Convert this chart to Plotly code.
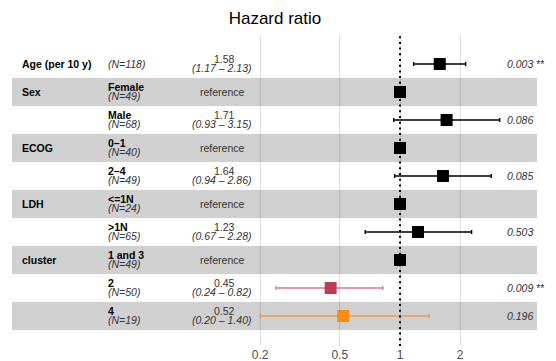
import math
import plotly.graph_objects as go

# ---------------- data ----------------
variables = ["Age (per 10 y)", "Sex", "", "ECOG", "", "LDH", "", "cluster", "", ""]
levels = ["", "Female", "Male", "0\u20131", "2\u20134", "<=1N", ">1N", "1 and 3", "2", "4"]
n_obs = [118, 49, 68, 40, 49, 24, 65, 49, 50, 19]
hazard_ratio = [1.58, 1.0, 1.71, 1.0, 1.64, 1.0, 1.23, 1.0, 0.45, 0.52]
ci_low = [1.17, None, 0.93, None, 0.94, None, 0.67, None, 0.24, 0.20]
ci_high = [2.13, None, 3.15, None, 2.86, None, 2.28, None, 0.82, 1.40]
p_values = ["0.003", None, "0.086", None, "0.085", None, "0.503", None, "0.009", "0.196"]
p_stars = ["**", "", "", "", "", "", "", "", "**", ""]
tick_values = [0.2, 0.5, 1, 2]
tick_labels = ["0.2", "0.5", "1", "2"]

# ---------------- styles ----------------
W, H = 556, 361
FONT = "Liberation Sans, Arial, Helvetica, sans-serif"
marker_colors = ["#000000"] * 8 + ["#C1395B", "#F78C12"]
bar_colors = ["#000000"] * 8 + ["rgba(193,57,91,0.65)", "rgba(247,140,18,0.75)"]
band_color = "#D0D0D0"
TS = 10.5
UP, DOWN = 5, -4

n_rows = len(variables)
rows = list(range(n_rows))

fig = go.Figure()

shapes = []
for i in rows:
    if i % 2 == 1:
        shapes.append(dict(type="rect", xref="paper", yref="y",
                           x0=12 / W, x1=537 / W, y0=i - 0.5, y1=i + 0.5,
                           fillcolor=band_color, line=dict(width=0), layer="below"))
shapes.append(dict(type="line", xref="x", yref="paper", x0=1, x1=1, y0=0, y1=1,
                   line=dict(color="black", width=2, dash="2px,3.7px"), layer="above"))

for i in rows:
    is_ref = ci_low[i] is None
    tr = dict(x=[hazard_ratio[i]], y=[i], mode="markers", showlegend=False,
              hoverinfo="skip",
              marker=dict(symbol="square", size=12, color=marker_colors[i],
                          line=dict(width=0)))
    if not is_ref:
        tr["error_x"] = dict(type="data", symmetric=False,
                             array=[ci_high[i] - hazard_ratio[i]],
                             arrayminus=[hazard_ratio[i] - ci_low[i]],
                             color=bar_colors[i], thickness=1.4, width=2)
    fig.add_trace(go.Scatter(**tr))

ann = []
txt_col = "#333333"


def add(x, i, text, anchor="left", shift=0, color=txt_col):
    ann.append(dict(x=x / W, y=i, xref="paper", yref="y", xanchor=anchor,
                    yanchor="middle", yshift=shift, text=text, showarrow=False,
                    font=dict(size=TS, color=color, family=FONT)))


for i in rows:
    if variables[i]:
        add(20, i, "<b>" + variables[i] + "</b>", color="black")
    if levels[i]:
        add(106, i, "<b>" + levels[i] + "</b>", shift=UP, color="black")
        add(106, i, "<i>(N=%d)</i>" % n_obs[i], shift=DOWN)
    else:
        add(106, i, "<i>(N=%d)</i>" % n_obs[i])
    if ci_low[i] is None:
        add(222, i, "reference", anchor="center")
    else:
        add(224, i, "%.2f" % hazard_ratio[i], anchor="center", shift=UP)
        add(222, i, "<i>(%.2f \u2013 %.2f)</i>" % (ci_low[i], ci_high[i]),
            anchor="center", shift=DOWN)
    if p_values[i] is not None:
        t = "<i>" + p_values[i] + "</i>" + (" " + p_stars[i] if p_stars[i] else "")
        add(505, i, t)

x_lo = (0 - 400) / 200
x_hi = (W - 400) / 200
top_px, bot_px, first_row_px, row_px = 35, 346, 64, 28
y_top = -(first_row_px - top_px) / row_px
y_bot = (bot_px - first_row_px) / row_px

fig.update_layout(
    width=W, height=H,
    margin=dict(l=0, r=0, t=top_px, b=H - bot_px),
    paper_bgcolor="white", plot_bgcolor="white",
    font=dict(family=FONT),
    title=dict(text="Hazard ratio", x=275 / W, xanchor="center",
               y=1 - 18 / H, yanchor="middle", yref="container",
               font=dict(size=17, color="black", family=FONT)),
    shapes=shapes, annotations=ann,
    xaxis=dict(type="log", range=[x_lo, x_hi], tickvals=tick_values, ticktext=tick_labels,
               showgrid=True, gridcolor="rgba(0,0,0,0.12)", gridwidth=1,
               zeroline=False, showline=False, ticks="",
               tickfont=dict(size=12, color="#4D4D4D", family=FONT)),
    yaxis=dict(range=[y_bot, y_top], showgrid=False, zeroline=False,
               showticklabels=False, showline=False, ticks=""),
)

fig.write_html("out.html", config={"displayModeBar": False},
               post_script="document.body.style.margin='0';document.body.style.overflow='hidden';")
